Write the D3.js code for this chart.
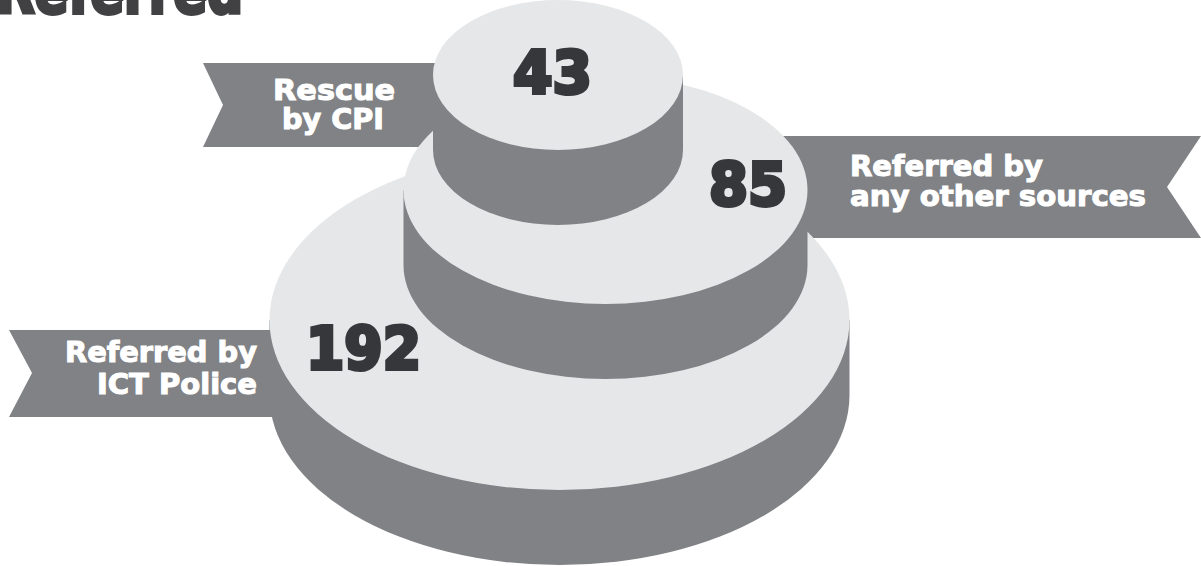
<!DOCTYPE html>
<html><head><meta charset="utf-8">
<style>html,body{margin:0;padding:0;background:#fff;overflow:hidden}svg{display:block}
text{font-family:"DejaVu Sans","Liberation Sans",sans-serif;font-weight:700}</style>
<script src="https://cdn.jsdelivr.net/npm/d3@7"></script></head><body>
<script>
const categories = ["Referred by ICT Police", "Referred by any other sources", "Rescue by CPI"];
const values = [192, 85, 43];
const title = "Referred";
const ribbonLines = [["Referred by", "ICT Police"], ["Referred by", "any other sources"], ["Rescue", "by CPI"]];

const W = 1201, H = 566;
const svg = d3.select("body").append("svg").attr("width", W).attr("height", H);
const dark = "#808285", light = "#e6e7e8", ink = "#36373b";

const rx = d3.scaleLinear().domain([43, 85, 192]).range([125, 202, 290]);
const ry = d3.scaleLinear().domain([43, 85, 192]).range([75, 114, 170]);
const cx = d3.scaleOrdinal().domain(categories).range([559.5, 605.5, 558]);
const cy = d3.scaleOrdinal().domain(categories).range([320, 190, 75]);
const depth = 75;

const ribbons = {
  [categories[0]]: [[9,330],[285,330],[285,417],[9,417],[32,373]],
  [categories[1]]: [[770,136],[1201,136],[1167,187],[1201,238],[770,238]],
  [categories[2]]: [[203,63],[445,63],[445,147],[203,147],[223,105]]
};
const line = d3.line();
svg.append("g").selectAll("path").data(categories).join("path")
  .attr("d", c => line(ribbons[c]) + "Z").attr("fill", dark);

const data = d3.zip(categories, values, ribbonLines).map(([c, v, l]) => ({c, v, l}));
const discs = svg.append("g").selectAll("g").data(data).join("g");
discs.append("path").attr("fill", dark).attr("d", d => {
  const x = cx(d.c), y = cy(d.c), a = rx(d.v), b = ry(d.v);
  return `M${x-a},${y}L${x-a},${y+depth}A${a},${b} 0 0 0 ${x+a},${y+depth}L${x+a},${y}Z`;
});
discs.append("ellipse").attr("fill", light)
  .attr("cx", d => cx(d.c)).attr("cy", d => cy(d.c))
  .attr("rx", d => rx(d.v)).attr("ry", d => ry(d.v));

// value labels
const numPos = {192:[363.5,369,115], 85:[748,205,78], 43:[552.5,93,79]};
svg.append("g").selectAll("text").data(data).join("text")
  .text(d => d.v).attr("x", d => numPos[d.v][0]).attr("y", d => numPos[d.v][1])
  .attr("text-anchor", "middle").attr("font-size", 59).attr("fill", ink)
  .attr("stroke", ink).attr("stroke-width", 4)
  .attr("textLength", d => numPos[d.v][2]).attr("lengthAdjust", "spacingAndGlyphs");

// ribbon labels
const lab = [
  {t:"Referred by", x:65, y:362, w:192},
  {t:"ICT Police", x:97, y:394, w:160},
  {t:"Referred by", x:850, y:176, w:193},
  {t:"any other sources", x:850, y:206, w:296},
  {t:"Rescue", x:273, y:100, w:122},
  {t:"by CPI", x:282, y:129, w:102}
];
svg.append("g").selectAll("text").data(lab).join("text")
  .text(d => d.t).attr("x", d => d.x).attr("y", d => d.y)
  .attr("font-size", 29).attr("fill", "#fff").attr("stroke", "#fff").attr("stroke-width", 1.1)
  .attr("textLength", d => d.w).attr("lengthAdjust", "spacingAndGlyphs");

svg.append("text").text(title).attr("x", -4).attr("y", 13)
  .attr("font-size", 64).attr("fill", "#414042").attr("stroke", "#414042").attr("stroke-width", 4)
  .attr("textLength", 247).attr("lengthAdjust", "spacingAndGlyphs");
</script></body></html>
